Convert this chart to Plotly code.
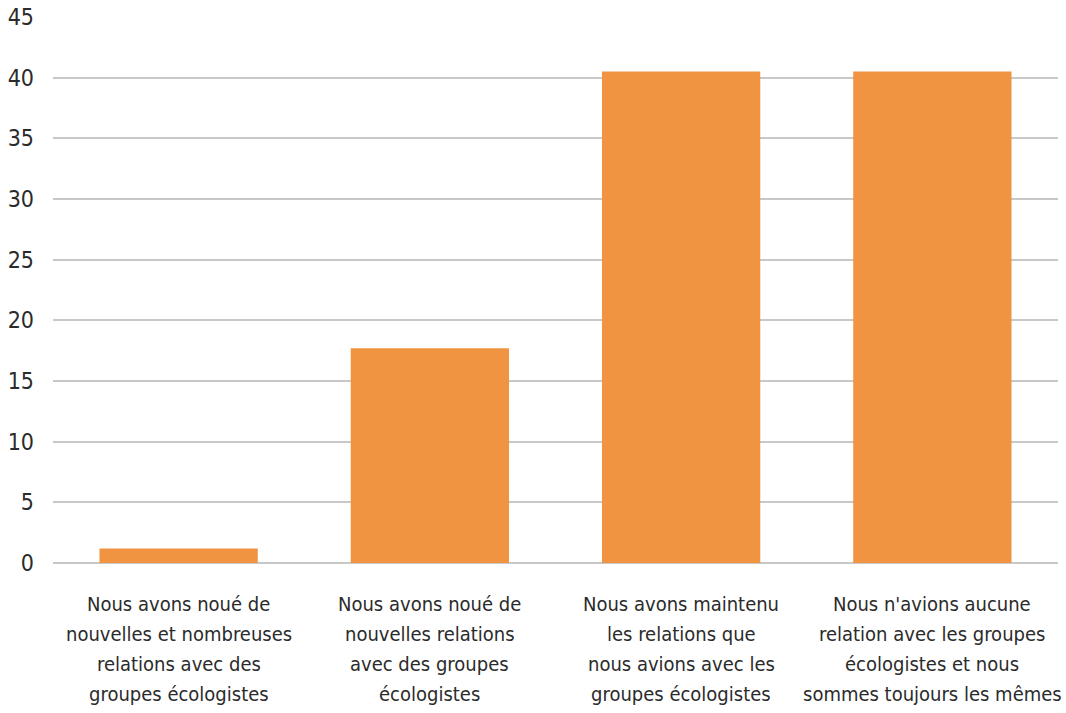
import plotly.graph_objects as go

categories = [
    "Nous avons noué de<br>nouvelles et nombreuses<br>relations avec des<br>groupes écologistes",
    "Nous avons noué de<br>nouvelles relations<br>avec des groupes<br>écologistes",
    "Nous avons maintenu<br>les relations que<br>nous avions avec les<br>groupes écologistes",
    "Nous n'avions aucune<br>relation avec les groupes<br>écologistes et nous<br>sommes toujours les mêmes",
]
values = [1.2, 17.7, 40.5, 40.5]
y_ticks = [0, 5, 10, 15, 20, 25, 30, 35, 40, 45]

FONT = "DejaVu Sans Condensed, Roboto, sans-serif"
TEXT = "#2b2b2b"

fig = go.Figure(go.Bar(
    x=list(range(len(values))),
    y=values,
    marker=dict(color="#F09442", line=dict(width=0)),
    width=0.63,
))

# multi-line category labels, one annotation per line for tight spacing
for i, label in enumerate(categories):
    for j, line in enumerate(label.split("<br>")):
        fig.add_annotation(
            x=i, y=0, xref="x", yref="paper",
            text=line, showarrow=False,
            xanchor="center", yanchor="middle",
            yshift=-41 - 30 * j,
            font=dict(family=FONT, size=20, color=TEXT),
        )

fig.update_layout(
    width=1066, height=713,
    margin=dict(l=53, r=8, t=17, b=150, autoexpand=False),
    paper_bgcolor="white", plot_bgcolor="white",
    showlegend=False,
    xaxis=dict(
        range=[-0.5, len(values) - 0.5],
        showticklabels=False, showgrid=False, zeroline=False,
        fixedrange=True, automargin=False,
    ),
    yaxis=dict(
        range=[0, 45], tickvals=y_ticks, automargin=False,
        showgrid=True, gridcolor="#c8c8c8", gridwidth=2,
        zeroline=True, zerolinecolor="#c8c8c8", zerolinewidth=2,
        ticks="", ticklabelstandoff=18,
        tickfont=dict(family=FONT, size=23, color=TEXT),
    ),
)

fig.write_html("out.html")
